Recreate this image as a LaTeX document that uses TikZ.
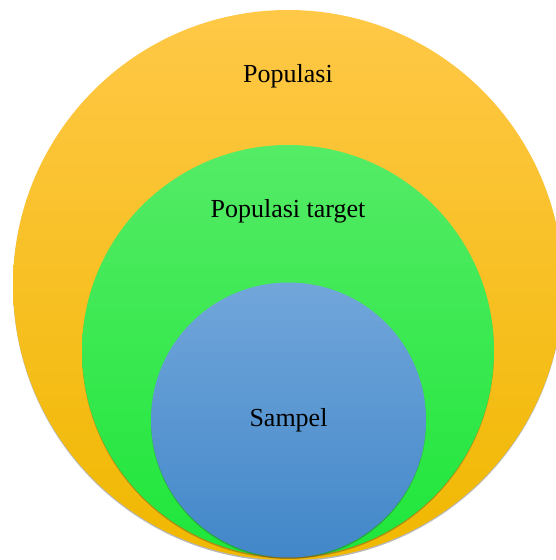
\documentclass[tikz,border=0pt]{standalone}
\usepackage{fontspec}
\setmainfont{Liberation Serif}
\usetikzlibrary{shadows}

\definecolor{popTop}{HTML}{FFC847}
\definecolor{popBot}{HTML}{F0B800}
\definecolor{tgtTop}{HTML}{55EB66}
\definecolor{tgtBot}{HTML}{1EE63A}
\definecolor{smpTop}{HTML}{71A6DA}
\definecolor{smpBot}{HTML}{4287C9}

\begin{document}
\begin{tikzpicture}[x=1pt, y=1pt,
    set/.style={circle, inner sep=0pt, outer sep=0pt,
      drop shadow={shadow xshift=0pt, shadow yshift=-1.5pt, opacity=0.35, fill=black!80}},
    settext/.style={font=\fontsize{26}{30}\selectfont, text=black}]
      \useasboundingbox (0,0) rectangle (555,560);

      \node[set, minimum size=550, top color=popTop, bottom color=popBot] (populasi) at (288, 275) {};
      \node[set, minimum size=412, top color=tgtTop, bottom color=tgtBot] (target) at (288, 209) {};
      \node[set, minimum size=275, top color=smpTop, bottom color=smpBot] (sampel) at (288.5, 140) {};

      \node[settext] (lpopulasi) at (288, 484) {Populasi};
      \node[settext] (ltarget) at (288, 349) {Populasi target};
      \node[settext] (lsampel) at (sampel) {Sampel};
    \end{tikzpicture}
\end{document}
